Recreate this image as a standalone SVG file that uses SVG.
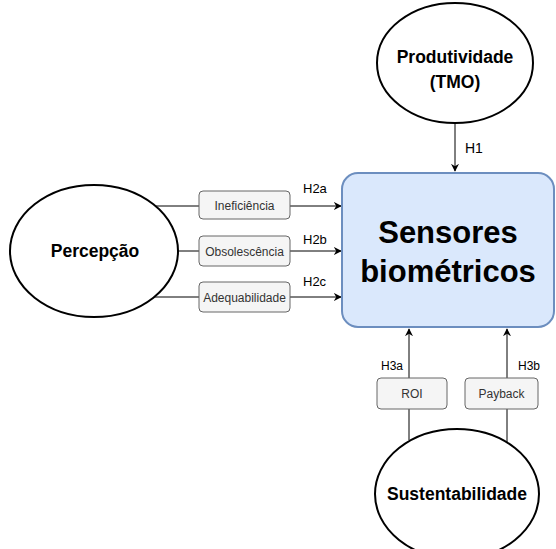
<svg xmlns="http://www.w3.org/2000/svg" width="556" height="549" viewBox="0 0 556 549">
<style>
.ell{fill:#fff;stroke:#000;stroke-width:2}
.big{font-family:"Liberation Sans",Arial,sans-serif;font-weight:bold;font-size:17.5px;fill:#000;text-anchor:middle}
.sb{fill:#f5f5f5;stroke:#666;stroke-width:1}
.st{font-family:"Liberation Sans",Arial,sans-serif;font-size:12px;fill:#333;text-anchor:middle}
.lbl{font-family:"Liberation Sans",Arial,sans-serif;font-size:13px;fill:#000}
.ln{stroke:#000;stroke-width:1;fill:none}
</style>
<defs>
<marker id="ah" viewBox="0 0 10 10" refX="9" refY="5" markerWidth="8" markerHeight="8" markerUnits="userSpaceOnUse" orient="auto">
<path d="M0,0 L10,5 L0,10 L3,5 Z" fill="#000"/>
</marker>
</defs>
<g id="connectors">
<line class="ln" x1="455" y1="123" x2="455" y2="171" marker-end="url(#ah)"/>
<line class="ln" x1="155" y1="206" x2="199" y2="206"/>
<line class="ln" x1="290" y1="206" x2="341" y2="206" marker-end="url(#ah)"/>
<line class="ln" x1="177" y1="251" x2="199" y2="251"/>
<line class="ln" x1="290" y1="251" x2="341" y2="251" marker-end="url(#ah)"/>
<line class="ln" x1="150" y1="297" x2="199" y2="297"/>
<line class="ln" x1="290" y1="297" x2="341" y2="297" marker-end="url(#ah)"/>
<line class="ln" x1="409" y1="440" x2="409" y2="409"/>
<line class="ln" x1="409" y1="378" x2="409" y2="329" marker-end="url(#ah)"/>
<line class="ln" x1="507" y1="446" x2="507" y2="409"/>
<line class="ln" x1="507" y1="378" x2="507" y2="329" marker-end="url(#ah)"/>
<text class="lbl" x="465" y="153" style="font-size:14px">H1</text>
<text class="lbl" x="303" y="193">H2a</text>
<text class="lbl" x="303" y="244">H2b</text>
<text class="lbl" x="303" y="286">H2c</text>
<text class="lbl" x="381" y="370" style="font-size:12px">H3a</text>
<text class="lbl" x="518" y="370" style="font-size:12px">H3b</text>
</g>
<g id="produtividade">
<ellipse class="ell" cx="455" cy="63" rx="78" ry="60"/>
<text class="big" x="455" y="63">Produtividade</text>
<text class="big" x="455" y="88">(TMO)</text>
</g>
<g id="sensores">
<rect x="342" y="173" width="212" height="154" rx="16" fill="#dae8fc" stroke="#6c8ebf" stroke-width="2"/>
<text class="big" x="448" y="243" style="font-size:31px">Sensores</text>
<text class="big" x="448" y="282" style="font-size:31px">biométricos</text>
</g>
<g id="percepcao">
<ellipse class="ell" cx="94" cy="251" rx="84" ry="66"/>
<text class="big" x="95" y="257">Percepção</text>
</g>
<g id="ineficiencia">
<rect class="sb" x="199" y="191" width="91" height="28" rx="4"/>
<text class="st" x="244.5" y="209.5">Ineficiência</text>
</g>
<g id="obsolescencia">
<rect class="sb" x="199" y="236" width="91" height="30" rx="4"/>
<text class="st" x="244.5" y="255.5">Obsolescência</text>
</g>
<g id="adequabilidade">
<rect class="sb" x="199" y="282" width="91" height="30" rx="4"/>
<text class="st" x="244.5" y="301.5">Adequabilidade</text>
</g>
<g id="roi">
<rect class="sb" x="377" y="378" width="70" height="31" rx="4"/>
<text class="st" x="412" y="398">ROI</text>
</g>
<g id="payback">
<rect class="sb" x="465" y="378" width="73" height="31" rx="4"/>
<text class="st" x="501.5" y="398">Payback</text>
</g>
<g id="sustentabilidade">
<ellipse class="ell" cx="457" cy="494" rx="82" ry="65"/>
<text class="big" x="457" y="500">Sustentabilidade</text>
</g>
</svg>
